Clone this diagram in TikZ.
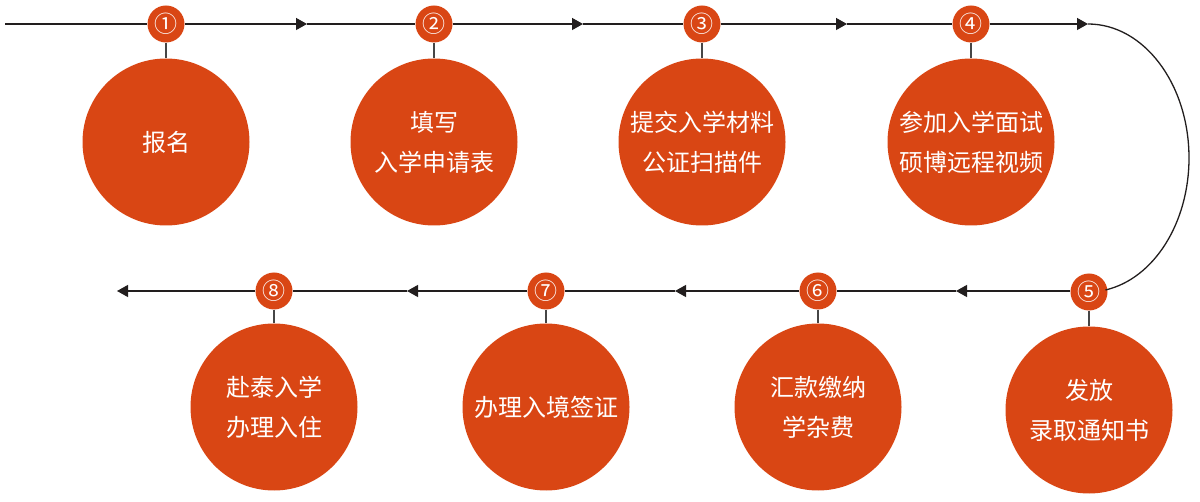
\documentclass[tikz,border=0pt]{standalone}
\usepackage{fontspec}
\newfontfamily\cjk{Noto Sans CJK SC}
\usetikzlibrary{arrows.meta}
\definecolor{stepred}{RGB}{217,70,20}
\definecolor{linedark}{RGB}{34,30,30}
\definecolor{stemgray}{RGB}{70,70,70}
\tikzset{
  bigball/.style={circle,fill=stepred,draw=none,inner sep=0pt,minimum size=167pt,
    text=white,align=center,font=\cjk\fontsize{24}{40}\selectfont},
  numball/.style={circle,fill=stepred,draw=none,inner sep=0pt,minimum size=37pt,
    text=white,font=\cjk\fontsize{23}{23}\selectfont},
  flowline/.style={draw=linedark,line width=1.3pt},
  tipline/.style={flowline,-{Triangle[length=11pt,width=12pt]}},
  stem/.style={draw=stemgray,line width=1.5pt}
}
\begin{document}
\begin{tikzpicture}[x=1pt,y=-1pt]
\useasboundingbox (0,0) rectangle (1200,502);
% coordinates of line ends and arrow tips
\coordinate (s0) at (5,24);
\coordinate (a1) at (307,24);
\coordinate (a2) at (583,24);
\coordinate (a3) at (847,24);
\coordinate (a4) at (1088,24);
\coordinate (a5) at (956,291);
\coordinate (a6) at (675,291);
\coordinate (a7) at (407,291);
\coordinate (a8) at (117,291);
% big circles
\node[bigball] (b1) at (166,142) {报名};
\node[bigball] (b2) at (434,142) {填写\\入学申请表};
\node[bigball] (b3) at (702,142) {提交入学材料\\公证扫描件};
\node[bigball] (b4) at (971,142) {参加入学面试\\硕博远程视频};
\node[bigball] (b5) at (1089,410) {发放\\录取通知书};
\node[bigball] (b6) at (818,407) {汇款缴纳\\学杂费};
\node[bigball] (b7) at (546,407) {办理入境签证};
\node[bigball] (b8) at (274,407) {赴泰入学\\办理入住};
% small numbered circles
\node[numball] (c1) at (166,24) {①};
\node[numball] (c2) at (434,24) {②};
\node[numball] (c3) at (702,24) {③};
\node[numball] (c4) at (971,24) {④};
\node[numball] (c5) at (1089,292) {⑤};
\node[numball] (c6) at (818,291) {⑥};
\node[numball] (c7) at (546,291) {⑦};
\node[numball] (c8) at (274,291) {⑧};
% stems
\foreach \i in {1,...,8} \draw[stem] (c\i) -- (b\i);
% top line
\draw[flowline] (s0) -- (c1);
\draw[tipline] (c1) -- (a1);
\draw[flowline] (a1) -- (c2);
\draw[tipline] (c2) -- (a2);
\draw[flowline] (a2) -- (c3);
\draw[tipline] (c3) -- (a3);
\draw[flowline] (a3) -- (c4);
\draw[tipline] (c4) -- (a4);
% return arc
\draw[flowline] (a4) arc[start angle=-90,end angle=80,x radius=101,y radius=134];
% bottom line
\draw[tipline] (c5.west |- a5) -- (a5);
\draw[flowline] (a5) -- (c6);
\draw[tipline] (c6) -- (a6);
\draw[flowline] (a6) -- (c7);
\draw[tipline] (c7) -- (a7);
\draw[flowline] (a7) -- (c8);
\draw[tipline] (c8) -- (a8);
\end{tikzpicture}
\end{document}
